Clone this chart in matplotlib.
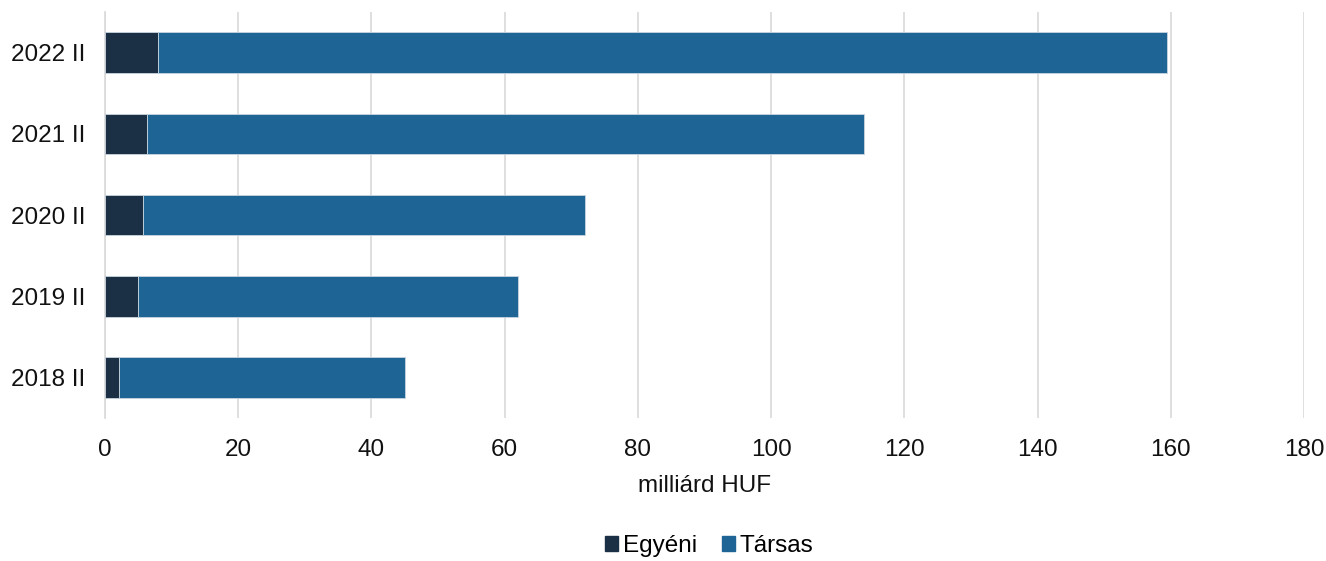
import matplotlib.pyplot as plt
from matplotlib.patches import Patch

plt.rcParams['font.family'] = ['Liberation Sans', 'DejaVu Sans']

periods = ['2018 II', '2019 II', '2020 II', '2021 II', '2022 II']
egyeni = [2.15, 5.0, 5.75, 6.35, 8.0]
tarsas_total = [45.0, 62.0, 72.0, 113.9, 159.5]
tarsas = [t - e for t, e in zip(tarsas_total, egyeni)]

c_egyeni = '#1b3045'
c_tarsas = '#1e6596'

fig = plt.figure(figsize=(13.26, 5.61), dpi=100)
ax = fig.add_axes([105 / 1326, 1 - 418 / 561, 1199 / 1326, 406 / 561])

y = range(len(periods))
ax.barh(y, egyeni, height=0.5, color=c_egyeni, edgecolor='#c8d4df', linewidth=0.6, zorder=3)
ax.barh(y, tarsas, left=egyeni, height=0.5, color=c_tarsas, edgecolor='#c8d4df', linewidth=0.6, zorder=3)

ax.set_xlim(0, 180)
ax.set_ylim(-0.5, 4.5)
ax.set_xticks(range(0, 181, 20))
ax.set_yticks(list(y))
ax.set_yticklabels(periods)
ax.tick_params(axis='both', length=0, labelsize=17.5, colors='#111111')
ax.tick_params(axis='x', pad=15)
ax.tick_params(axis='y', pad=14)
ax.grid(axis='x', color='#d9d9d9', linewidth=1.2, zorder=0)
for s in ['top', 'right', 'bottom']:
    ax.spines[s].set_visible(False)
ax.spines['left'].set_color('#d9d9d9')
ax.spines['left'].set_linewidth(1.2)

ax.set_xlabel('milliárd HUF', fontsize=17.5, labelpad=10, color='#111111')

handles = [Patch(color=c_egyeni, label='Egyéni'), Patch(color=c_tarsas, label='Társas')]
fig.legend(handles=handles, loc='lower center', bbox_to_anchor=(0.535, -0.032), ncol=2, frameon=False,
           fontsize=17.5, handlelength=0.55, handleheight=0.55, handletextpad=0.2, columnspacing=1.0)

fig.savefig('out.png', dpi=100)
